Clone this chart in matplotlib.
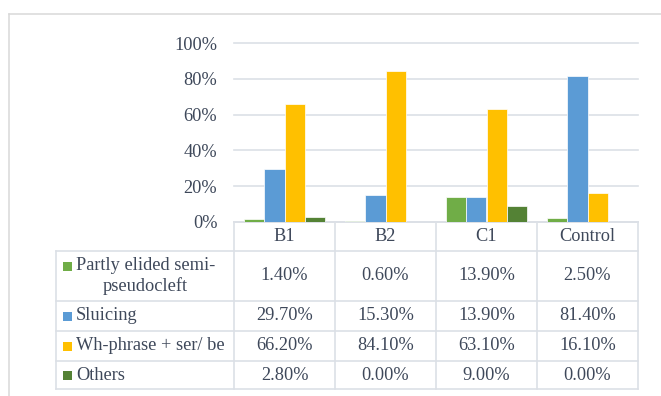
import matplotlib.pyplot as plt
import matplotlib.ticker as mticker

# Datos: porcentaje por grupo
groups = ["B1", "B2", "C1", "Control"]
series_names = ["Partly elided semi-\npseudocleft", "Sluicing", "Wh-phrase + ser/ be", "Others"]
partly = [1.40, 0.60, 13.90, 2.50]
sluicing = [29.70, 15.30, 13.90, 81.40]
wh_phrase = [66.20, 84.10, 63.10, 16.10]
others = [2.80, 0.00, 9.00, 0.00]
yticks = [0, 20, 40, 60, 80, 100]

series = [partly, sluicing, wh_phrase, others]
colors = ["#70AD47", "#5B9BD5", "#FFC000", "#548235"]

plt.rcParams["font.family"] = ["Liberation Serif", "DejaVu Serif"]
txt_color = "#3E485A"
line_color = "#DCE0E6"
fs = 13.2

W, H = 661, 396
fig = plt.figure(figsize=(W / 100, H / 100), dpi=100)

# Capa de fondo en pixeles para el marco y la tabla
bg = fig.add_axes([0, 0, 1, 1])
bg.set_xlim(0, W)
bg.set_ylim(H, 0)
bg.axis("off")

# Marco del grafico
bg.plot([9, W], [14, 14], color="#D9D9D9", lw=1.1)
bg.plot([9, 9], [14, H], color="#D9D9D9", lw=1.1)

# Geometria de la tabla
x0, x1, x_end = 56, 234, 638
col_w = (x_end - x1) / len(groups)
col_x = [x1 + i * col_w for i in range(len(groups) + 1)]
head_top, head_bot = 222, 251
row_y = [251, 301, 331, 361, 389]

for x in col_x:
    bg.plot([x, x], [head_top, row_y[-1]], color=line_color, lw=1.2)
bg.plot([x0, x0], [row_y[0], row_y[-1]], color=line_color, lw=1.2)
bg.plot([x1, x_end], [head_top, head_top], color=line_color, lw=1.2)
for y in row_y:
    bg.plot([x0, x_end], [y, y], color=line_color, lw=1.2)

# Cabecera de columnas
for i, g in enumerate(groups):
    bg.text(col_x[i] + col_w / 2, (head_top + head_bot) / 2, g, ha="center", va="center",
            fontsize=fs, color=txt_color)

# Filas: leyenda + valores
for r, (name, vals, c) in enumerate(zip(series_names, series, colors)):
    yc = (row_y[r] + row_y[r + 1]) / 2
    if "\n" in name:
        sq_y = yc - 10
    else:
        sq_y = yc
    bg.add_patch(plt.Rectangle((62.5, sq_y - 4.5), 9, 9, color=c, lw=0))
    bg.text(76, yc, name, ha="left", va="center", multialignment="center",
            fontsize=fs, color=txt_color, linespacing=1.2)
    for i, v in enumerate(vals):
        bg.text(col_x[i] + col_w / 2, yc, f"{v:.2f}%", ha="center", va="center",
                fontsize=fs, color=txt_color)

# Grafico de barras agrupadas
ax = fig.add_axes([x1 / W, 1 - head_top / H, (x_end - x1) / W, (head_top - 43) / H])
ax.set_facecolor("none")
n = len(series)
bw = 0.2
for k, (vals, c) in enumerate(zip(series, colors)):
    xs = [i + (k - (n - 1) / 2) * bw for i in range(len(groups))]
    ax.bar(xs, vals, width=bw, color=c, edgecolor="white", linewidth=0.5, zorder=3)

ax.set_xlim(-0.5, len(groups) - 0.5)
ax.set_ylim(0, 100)
ax.set_yticks(yticks)
ax.yaxis.set_major_formatter(mticker.FuncFormatter(lambda v, p: f"{v:.0f}%"))
ax.tick_params(axis="y", length=0, pad=12, labelsize=fs, labelcolor=txt_color)
ax.set_xticks([])
ax.grid(axis="y", color=line_color, lw=1.2, zorder=0)
for ln in ax.get_ygridlines():
    ln.set_clip_on(False)
for s in ax.spines.values():
    s.set_visible(False)

fig.savefig("out.png", dpi=100)
